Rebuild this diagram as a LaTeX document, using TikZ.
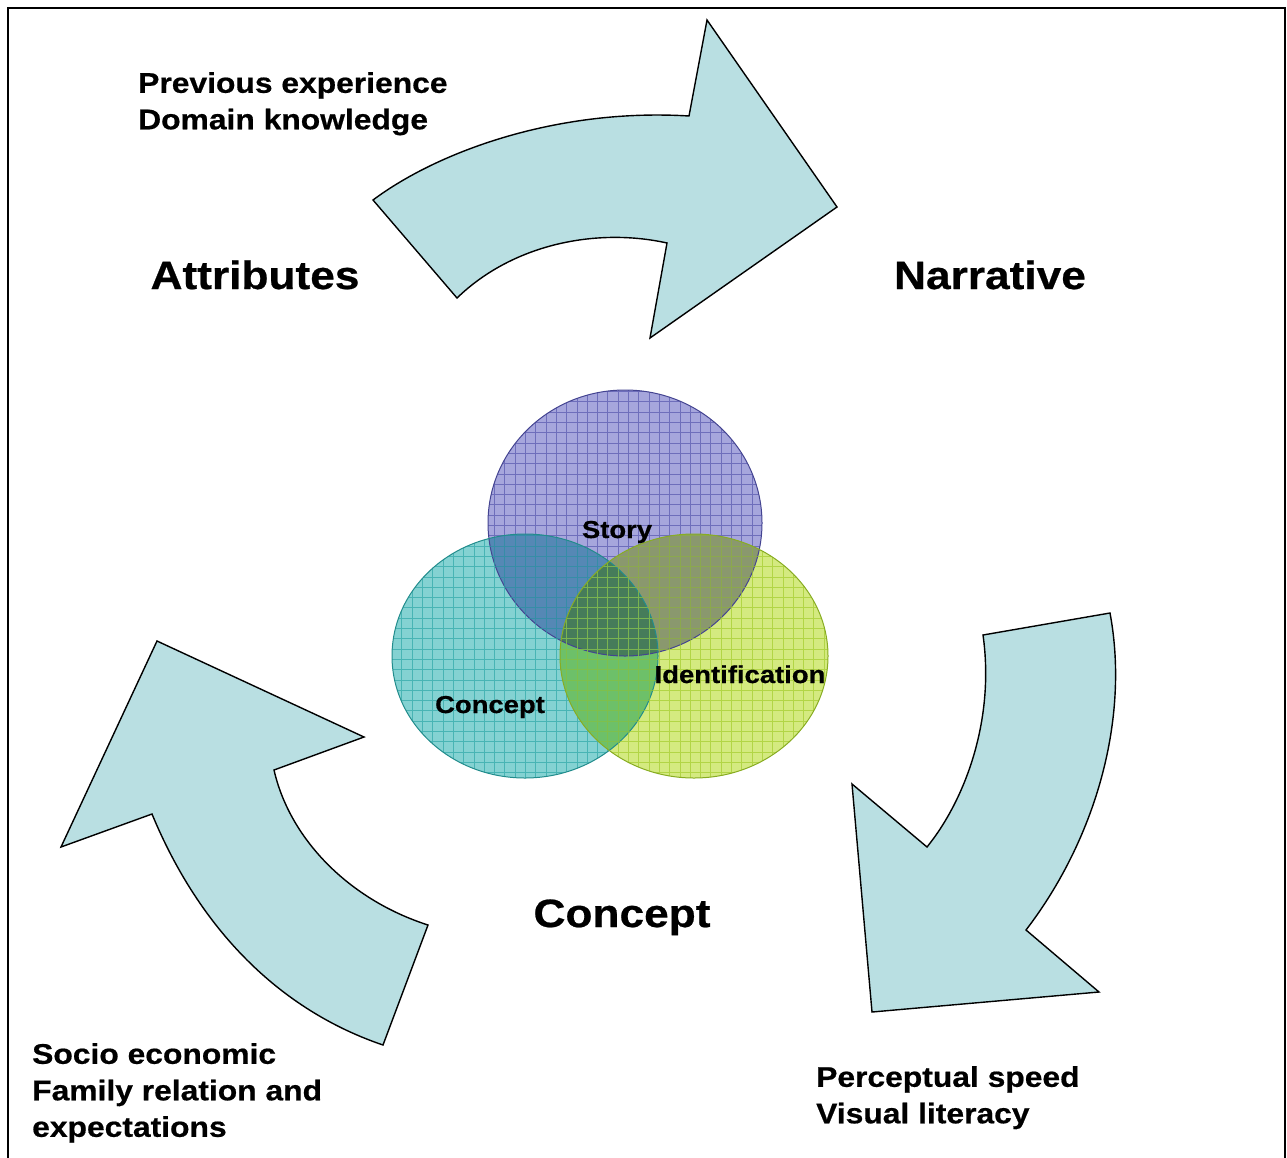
\documentclass[tikz,border=0pt]{standalone}
\usepackage{fontspec}
\usepackage{xcolor}
\newfontfamily\labelfont[FakeStretch=1.12, FakeBold=0.6]{Liberation Sans}

\definecolor{arrowfill}{RGB}{185,223,226}
\definecolor{storyfill}{RGB}{166,166,220}
\definecolor{storyline}{RGB}{80,80,170}
\definecolor{conceptfill}{RGB}{132,210,210}
\definecolor{conceptline}{RGB}{40,165,165}
\definecolor{identfill}{RGB}{212,234,128}
\definecolor{identline}{RGB}{160,202,40}

\begin{document}
\begin{tikzpicture}[x=1pt, y=-1pt,
    bigarrow/.style={draw=black, line width=1.4pt, fill=arrowfill, line join=miter},
    stagelabel/.style={font=\labelfont\bfseries\fontsize{39.5}{42}\selectfont, inner sep=0pt},
    factorlabel/.style={font=\labelfont\bfseries\fontsize{28.4}{36.5}\selectfont, inner sep=0pt, align=left},
    setlabel/.style={font=\labelfont\bfseries\fontsize{24.5}{28}\selectfont, inner sep=0pt}]
    \useasboundingbox (0,0) rectangle (1287,1157);

    % Frame
    \draw[line width=2pt] (8,1160) -- (8,8) -- (1285,8) -- (1285,1160);

    % Cycle arrows
    \draw[bigarrow] (373,200) .. controls (440,150) and (560,108) .. (689,116)
        -- (707,20) -- (837,207) -- (650,338) -- (667,243)
        .. controls (600,228) and (515,242) .. (457,298) -- cycle;
    \draw[bigarrow] (983,635) -- (1110,613)
        .. controls (1130,720) and (1095,840) .. (1026,930)
        -- (1099,992) -- (872,1012) -- (852,784) -- (927,847)
        .. controls (965,800) and (995,720) .. (983,635) -- cycle;
    \draw[bigarrow] (428,925) -- (383,1045)
        .. controls (280,1010) and (200,930) .. (152,814)
        -- (61,847) -- (157,641) -- (364,737) -- (274,770)
        .. controls (290,840) and (350,900) .. (428,925) -- cycle;

    % Overlapping sets: fills multiply, grid and rim on top
    \begin{scope}[blend group=multiply]
      \fill[storyfill] (625,523) ellipse [x radius=137, y radius=133];
      \fill[conceptfill] (525,656) ellipse [x radius=133, y radius=122];
      \fill[identfill] (694,656) ellipse [x radius=134, y radius=122];
    \end{scope}
    \foreach \cx/\cy/\rx/\ry/\lc in {625/523/137/133/storyline,
        525/656/133/122/conceptline,
        694/656/134/122/identline} {
      \begin{scope}
        \clip (\cx,\cy) ellipse [x radius=\rx, y radius=\ry];
        \draw[\lc, draw opacity=0.65, line width=0.6pt, step=10.3pt] (380,380) grid (840,790);
      \end{scope}
      \draw[\lc!85!black, line width=1pt] (\cx,\cy) ellipse [x radius=\rx, y radius=\ry];
    }

    % Labels
    \node[factorlabel, anchor=north west] (priors) at (138,72) {Previous experience\\Domain knowledge};
    \node[stagelabel, anchor=base] (attributes) at (255,289) {Attributes};
    \node[stagelabel, anchor=base] (narrative) at (990,289) {Narrative};
    \node[stagelabel, anchor=base] (concept) at (622,927) {Concept};
    \node[factorlabel, anchor=north west] (social) at (32,1043) {Socio economic\\Family relation and\\expectations};
    \node[factorlabel, anchor=north west] (skills) at (816,1066) {Perceptual speed\\Visual literacy};

    \node[setlabel, anchor=base] (story) at (617,538) {Story};
    \node[setlabel, anchor=base] (ident) at (740,683) {Identification};
    \node[setlabel, anchor=base] (idea) at (490,713) {Concept};
\end{tikzpicture}
\end{document}
